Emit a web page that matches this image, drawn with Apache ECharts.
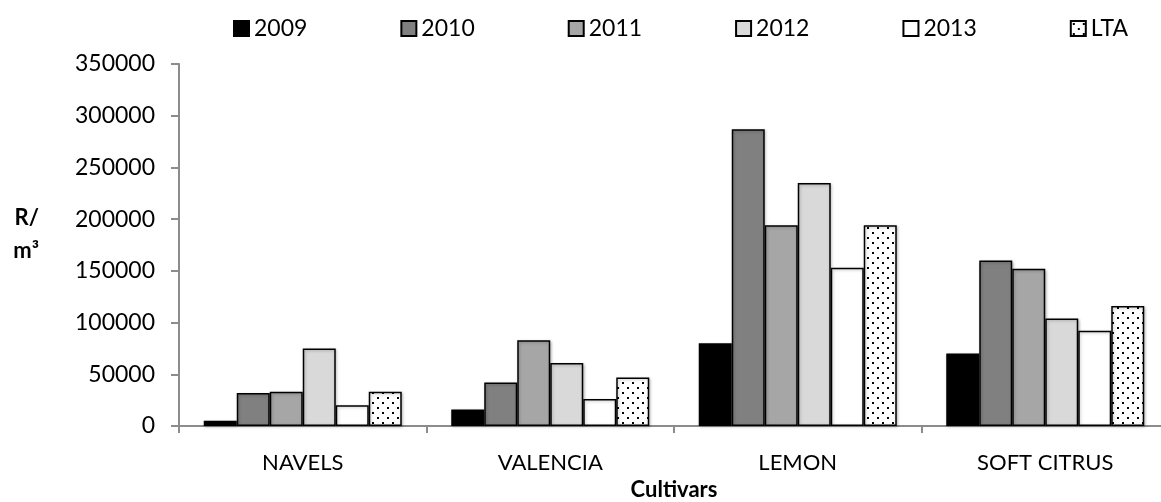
<!DOCTYPE html>
<html>
<head>
<meta charset="utf-8">
<script src="https://cdn.jsdelivr.net/npm/echarts@6/dist/echarts.min.js"></script>
<style>
  * { margin: 0; padding: 0; }
  body { background: #fff; }
  #main { width: 1161px; height: 502px; }
</style>
</head>
<body>
<div id="main"></div>
<script>
// categories and values (R/m3)
var cultivars = ['NAVELS', 'VALENCIA', 'LEMON', 'SOFT CITRUS'];
var years = ['2009', '2010', '2011', '2012', '2013', 'LTA'];
var v2009 = [5000, 16000, 80000, 70000];
var v2010 = [32000, 42000, 287000, 160000];
var v2011 = [33000, 83000, 194000, 152000];
var v2012 = [75000, 61000, 235000, 104000];
var v2013 = [20000, 26000, 153000, 92000];
var vLTA = [33000, 47000, 194000, 116000];
var yTicks = [0, 50000, 100000, 150000, 200000, 250000, 300000, 350000];

var font = 'Lato';

// dotted fill for LTA
function dots() {
  var c = document.createElement('canvas');
  c.width = 10; c.height = 10;
  var ctx = c.getContext('2d');
  ctx.fillStyle = '#fff';
  ctx.fillRect(0, 0, 10, 10);
  ctx.fillStyle = '#000';
  ctx.fillRect(2, 2, 2, 2);
  ctx.fillRect(7, 7, 2, 2);
  return c;
}

var fills = ['#000000', '#808080', '#a6a6a6', '#d9d9d9', '#ffffff',
  { image: dots(), repeat: 'repeat' }];
var values = [v2009, v2010, v2011, v2012, v2013, vLTA];

var series = years.map(function (y, i) {
  return {
    name: y,
    type: 'bar',
    barGap: 0,
    barCategoryGap: '20%',
    data: values[i],
    itemStyle: {
      color: fills[i],
      borderColor: '#000',
      borderWidth: 1.5,
      shadowColor: 'rgba(0,0,0,0.25)',
      shadowBlur: 3,
      shadowOffsetX: 1,
      shadowOffsetY: 1
    },
    emphasis: { disabled: true }
  };
});

var chart = echarts.init(document.getElementById('main'));
chart.setOption({
  animation: false,
  textStyle: { fontFamily: font },
  legend: {
    data: years,
    top: 12,
    left: 228,
    itemWidth: 15,
    itemHeight: 15,
    itemGap: 93,
    icon: 'rect',
    textStyle: { fontSize: 23, color: '#000', fontFamily: font }
  },
  grid: { left: 179, right: -8, top: 64, bottom: 76, outerBoundsMode: 'none' },
  xAxis: {
    type: 'category',
    data: cultivars,
    name: 'Cultivars',
    nameLocation: 'middle',
    nameGap: 53,
    nameTextStyle: { fontSize: 22, fontWeight: 'bold', color: '#000', fontFamily: font },
    axisLine: { lineStyle: { color: '#8c8c8c', width: 2 } },
    axisTick: { show: true, length: 7, lineStyle: { color: '#8c8c8c', width: 2 } },
    axisLabel: { fontSize: 22, color: '#000', margin: 26, fontFamily: font }
  },
  yAxis: {
    type: 'value',
    min: yTicks[0],
    max: yTicks[yTicks.length - 1],
    interval: yTicks[1] - yTicks[0],
    name: '{a|R/}\n{a|m³}\n{b|}',
    nameLocation: 'middle',
    nameRotate: 0,
    nameGap: 140,
    nameTextStyle: {
      fontSize: 22, fontWeight: 'bold', color: '#000', fontFamily: font,
      rich: {
        a: { fontSize: 22, fontWeight: 'bold', color: '#000', fontFamily: font, lineHeight: 33 },
        b: { lineHeight: 22 }
      }
    },
    splitLine: { show: false },
    axisLine: { show: true, lineStyle: { color: '#8c8c8c', width: 2 } },
    axisTick: { show: true, length: 8, lineStyle: { color: '#8c8c8c', width: 2 } },
    axisLabel: { fontSize: 23, color: '#000', margin: 24, fontFamily: font, formatter: function (v) { return String(v); } }
  },
  series: series
});
</script>
</body>
</html>
